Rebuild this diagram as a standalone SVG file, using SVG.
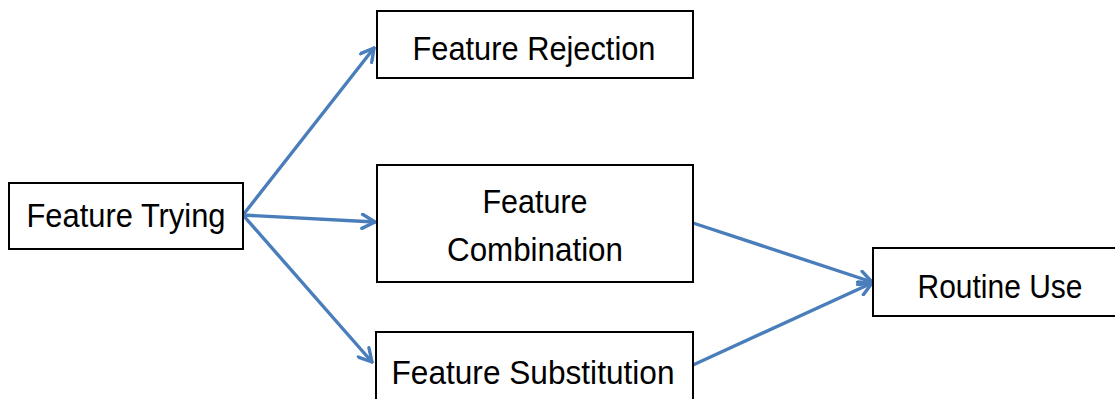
<svg xmlns="http://www.w3.org/2000/svg" width="1115" height="399" viewBox="0 0 1115 399">
<style>
.box{fill:#fff;stroke:#000;stroke-width:2}
.lbl{font-family:"Liberation Sans",Arial,sans-serif;font-size:33px;fill:#000;text-anchor:middle}
.conn{fill:none;stroke:#4A7EBB;stroke-width:3.4;stroke-linecap:round;marker-end:url(#ah)}
</style>
<defs>
<marker id="ah" viewBox="0 0 12 12" refX="10.5" refY="6" markerWidth="5" markerHeight="5" markerUnits="strokeWidth" orient="auto">
<polyline points="1.5,1 10.5,6 1.5,11" fill="none" stroke="#4A7EBB" stroke-width="2.4" stroke-linecap="round" stroke-linejoin="round"/>
</marker>
</defs>
<rect width="1115" height="399" fill="#fff"/>
<g id="connectors">
<line class="conn" x1="243" y1="215" x2="374" y2="48"/>
<line class="conn" x1="243" y1="215" x2="375" y2="222"/>
<line class="conn" x1="243" y1="215" x2="372" y2="362"/>
<line class="conn" x1="693" y1="223" x2="872" y2="282"/>
<line class="conn" x1="693" y1="365" x2="872" y2="283"/>
</g>
<g id="feature-trying">
<rect class="box" x="9" y="183" width="234" height="66"/>
<text class="lbl" x="126" y="227" textLength="199" lengthAdjust="spacingAndGlyphs">Feature Trying</text>
</g>
<g id="feature-rejection">
<rect class="box" x="377" y="11" width="316" height="67"/>
<text class="lbl" x="534" y="60" textLength="243" lengthAdjust="spacingAndGlyphs">Feature Rejection</text>
</g>
<g id="feature-combination">
<rect class="box" x="377" y="165" width="316" height="117"/>
<text class="lbl" x="535" y="213" textLength="105" lengthAdjust="spacingAndGlyphs">Feature</text>
<text class="lbl" x="535" y="261" textLength="176" lengthAdjust="spacingAndGlyphs">Combination</text>
</g>
<g id="feature-substitution">
<rect class="box" x="376" y="332" width="317" height="80"/>
<text class="lbl" x="533" y="384" textLength="283" lengthAdjust="spacingAndGlyphs">Feature Substitution</text>
</g>
<g id="routine-use">
<rect class="box" x="873" y="248" width="250" height="68"/>
<text class="lbl" x="1000" y="298" textLength="165" lengthAdjust="spacingAndGlyphs">Routine Use</text>
</g>
</svg>
